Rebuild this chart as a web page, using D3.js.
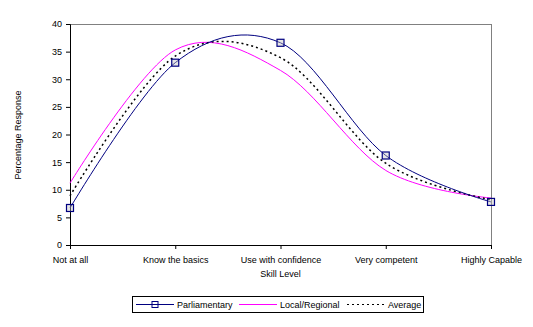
<!DOCTYPE html>
<html>
<head>
<meta charset="utf-8">
<script src="https://cdn.jsdelivr.net/npm/d3@7"></script>
<style>
  body { margin: 0; background: #fff; }
  text { font-family: "Liberation Sans", Arial, sans-serif; font-size: 9px; fill: #000; }
</style>
</head>
<body>
<svg id="chart" width="533" height="327"></svg>
<script>
const categories = ["Not at all", "Know the basics", "Use with confidence", "Very competent", "Highly Capable"];
const parliamentary = [6.7, 33.0, 36.6, 16.2, 7.8];
const localRegional = [11.2, 35.3, 31.6, 13.5, 8.5];
const average = [8.9, 34.2, 33.9, 14.8, 8.2];
const yTicks = [0, 5, 10, 15, 20, 25, 30, 35, 40];

const svg = d3.select("#chart");
const plotLeft = 70, plotRight = 491, plotTop = 24, plotBottom = 245;

const x = d3.scalePoint().domain(categories).range([plotLeft, plotRight]);
const y = d3.scaleLinear().domain([0, 40]).range([plotBottom, plotTop]);

// frame lines (top and right, grey)
svg.append("line").attr("x1", plotLeft).attr("x2", plotRight).attr("y1", plotTop + 0.5).attr("y2", plotTop + 0.5)
  .attr("stroke", "#808080");
svg.append("line").attr("x1", plotRight + 0.5).attr("x2", plotRight + 0.5).attr("y1", plotTop).attr("y2", plotBottom)
  .attr("stroke", "#808080");

// axes
const yAxis = svg.append("g").attr("transform", `translate(${plotLeft},0)`)
  .call(d3.axisLeft(y).tickValues(yTicks).tickSize(4).tickPadding(4));
const xAxis = svg.append("g").attr("transform", `translate(0,${plotBottom})`)
  .call(d3.axisBottom(x).tickSize(4).tickPadding(8));
[yAxis, xAxis].forEach((g) => {
  g.select(".domain").attr("stroke", "#000");
  g.selectAll(".tick line").attr("stroke", "#000");
  g.selectAll("text").style("font-family", "Liberation Sans, Arial, sans-serif").style("font-size", "9px");
});

// axis titles
svg.append("text").attr("x", (plotLeft + plotRight) / 2).attr("y", 277)
  .attr("text-anchor", "middle").text("Skill Level");
svg.append("text").attr("transform", "translate(21,135) rotate(-90)")
  .attr("text-anchor", "middle").text("Percentage Response");

// lines
const line = d3.line()
  .x((d, i) => x(categories[i]))
  .y((d) => y(d))
  .curve(d3.curveCatmullRom.alpha(0));

svg.append("path").datum(localRegional).attr("d", line)
  .attr("fill", "none").attr("stroke", "#ff00ff").attr("stroke-width", 1);
svg.append("path").datum(average).attr("d", line)
  .attr("fill", "none").attr("stroke", "#000").attr("stroke-width", 1.5)
  .attr("stroke-dasharray", "2,3");
svg.append("path").datum(parliamentary).attr("d", line)
  .attr("fill", "none").attr("stroke", "#000080").attr("stroke-width", 1);

svg.append("g").selectAll("rect").data(parliamentary).enter().append("rect")
  .attr("x", (d, i) => x(categories[i]) - 3.5)
  .attr("y", (d) => y(d) - 3.5)
  .attr("width", 7).attr("height", 7)
  .attr("fill", "#c0c0c0").attr("fill-opacity", 0.4)
  .attr("stroke", "#000080").attr("stroke-width", 1.2);

// legend
const legend = svg.append("g");
legend.append("rect").attr("x", 132.5).attr("y", 296.5).attr("width", 291).attr("height", 16)
  .attr("fill", "#fff").attr("stroke", "#000");
const ly = 304.5;
legend.append("line").attr("x1", 136).attr("x2", 174).attr("y1", ly).attr("y2", ly)
  .attr("stroke", "#000080");
legend.append("rect").attr("x", 152).attr("y", ly - 3).attr("width", 6).attr("height", 6)
  .attr("fill", "none").attr("stroke", "#000080");
legend.append("text").attr("x", 177).attr("y", ly + 3.5).text("Parliamentary");
legend.append("line").attr("x1", 239).attr("x2", 277).attr("y1", ly).attr("y2", ly)
  .attr("stroke", "#ff00ff");
legend.append("text").attr("x", 280).attr("y", ly + 3.5).text("Local/Regional");
legend.append("line").attr("x1", 347).attr("x2", 385).attr("y1", ly).attr("y2", ly)
  .attr("stroke", "#000").attr("stroke-dasharray", "2,3");
legend.append("text").attr("x", 388).attr("y", ly + 3.5).text("Average");
</script>
</body>
</html>
